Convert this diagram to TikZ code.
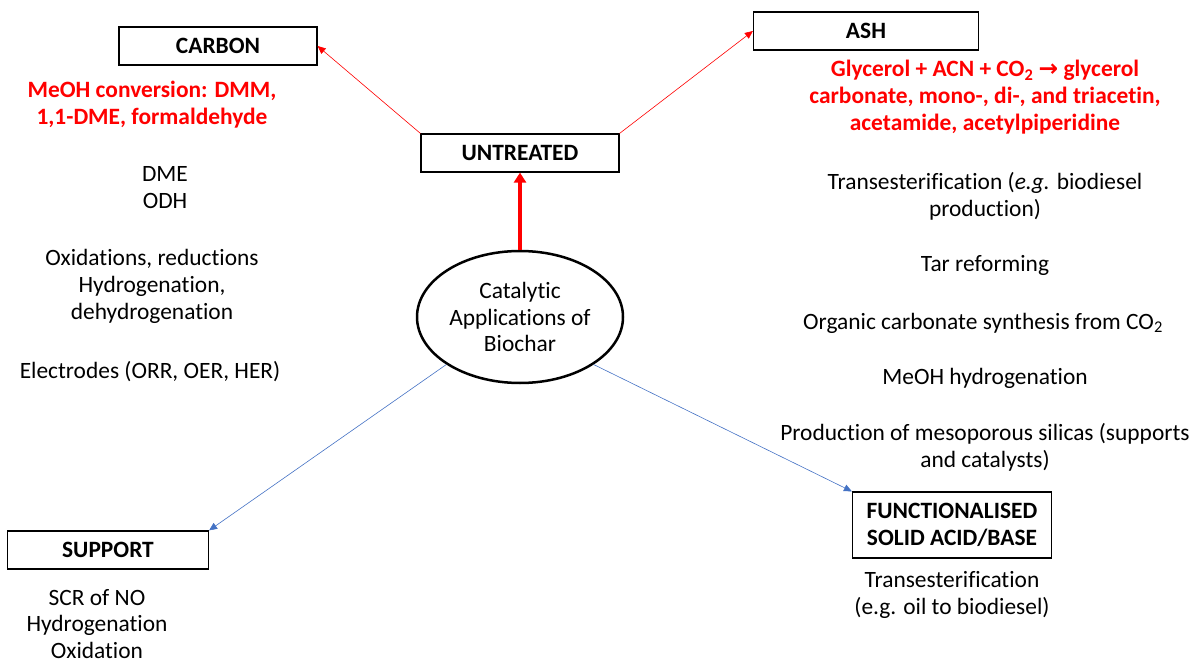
\documentclass[tikz,border=0pt]{standalone}
\usepackage{fontspec}
\setmainfont[Ligatures=NoCommon]{Carlito}
\newfontfamily\symfont{DejaVu Sans}
\usetikzlibrary{arrows.meta, shapes.geometric}
\newcommand{\bigtxt}{\fontsize{23.5}{27}\selectfont}
\definecolor{linkblue}{HTML}{4472C4}

\begin{document}
\begin{tikzpicture}[x=1bp, y=-1bp,
  txt/.style={align=center, inner sep=0pt, font=\bigtxt},
  hl/.style={txt, text=red, font=\bigtxt\bfseries},
  box/.style={draw, line width=1.2bp, minimum width=198bp, minimum height=38bp,
              align=center, font=\bigtxt\bfseries},
  thin arr/.style={-{Triangle[length=8bp, width=7bp]}, line width=0.6bp}
]
\useasboundingbox (0,0) rectangle (1198,664);

% hub and categories
\node[ellipse, draw, line width=2.5bp, minimum width=206bp, minimum height=132bp,
      inner sep=0pt, align=center, font=\bigtxt] (bio) at (520,317)
      {Catalytic\\Applications of\\Biochar};
\node[box] (unt) at (520,153) {UNTREATED};
\node[box] (carb) at (218,46) {CARBON};
\node[box, minimum width=225bp] (ash) at (866,31) {ASH};
\node[box, minimum width=201bp] (sup) at (108,550) {SUPPORT};
\node[box, minimum width=199bp, minimum height=66bp] (fun) at (952,525)
      {FUNCTIONALISED\\SOLID ACID/BASE};

% connectors
\draw[-{Triangle[length=10bp, width=12bp]}, line width=4bp, red] (bio.north) -- (unt.south);
\draw[thin arr, red] (unt.north west) -- (carb.east);
\draw[thin arr, red] (unt.north east) -- (ash.west);
\draw[thin arr, linkblue] (bio.south west) -- (sup.north east);
\draw[thin arr, linkblue] (bio.south east) -- (fun.north west);

% carbon column
\node[hl] (carbhl) at (152,105) {MeOH conversion: DMM,\\1,1-DME, formaldehyde};
\node[txt] (carb1) at (165,188) {DME\\ODH};
\node[txt] (carb2) at (152,286) {Oxidations, reductions\\Hydrogenation,\\dehydrogenation};
\node[txt] (carb3) at (150,372) {Electrodes (ORR, OER, HER)};

% ash column
\node[hl] (ashhl) at (985,97) {Glycerol + ACN + CO\textsubscript{2} {\symfont\bfseries →} glycerol\\
  carbonate, mono-, di-, and triacetin,\\acetamide, acetylpiperidine};
\node[txt] (ash1) at (985,196) {Transesterification (\textit{e.g.} biodiesel\\production)};
\node[txt] (ash2) at (985,265) {Tar reforming};
\node[txt] (ash3) at (983,323) {Organic carbonate synthesis from CO\textsubscript{2}};
\node[txt] (ash4) at (985,378) {MeOH hydrogenation};
\node[txt] (ash5) at (985,447) {Production of mesoporous silicas (supports\\and catalysts)};

% support and functionalised
\node[txt] (sup1) at (97,624) {SCR of NO\\Hydrogenation\\Oxidation};
\node[txt] (fun1) at (952,595) {Transesterification\\(e.g. oil to biodiesel)};
\end{tikzpicture}
\end{document}
